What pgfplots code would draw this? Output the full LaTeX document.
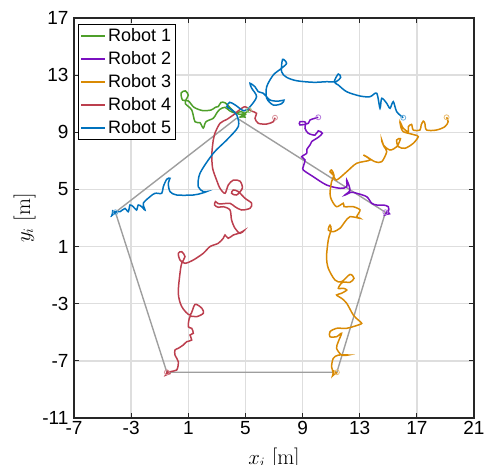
\documentclass[border=0pt]{standalone}
\usepackage{fontspec}
\usepackage{pgfplots}
\pgfplotsset{compat=1.18}
\usetikzlibrary{arrows.meta}
\newfontfamily\hv{Liberation Sans}
\definecolor{cg}{HTML}{4E9F2A}
\definecolor{cp}{HTML}{7A10C0}
\definecolor{co}{HTML}{D98A04}
\definecolor{cr}{HTML}{BC3F4E}
\definecolor{cb}{HTML}{0072BD}
\begin{document}
\begin{tikzpicture}
\begin{axis}[
  at={(0,0)}, anchor=south west,
  scale only axis, width=400pt, height=400pt,
  xmin=-7, xmax=21, ymin=-11, ymax=17,
  xtick={-7,-3,...,21}, ytick={-11,-7,...,17},
  grid=major, major grid style={color=black!13, line width=1.3pt},
  tick align=inside, major tick length=5pt,
  axis line style={color=black!85, line width=1.2pt},
  tick style={color=black!85, line width=1.2pt},
  /pgf/number format/assume math mode=true,
  ticklabel style={font=\hv\fontsize{19}{22}\selectfont},
  yticklabel style={xshift=-2pt},
  xlabel={$x_i$ [m]}, ylabel={$y_i$ [m]},
  xlabel style={yshift=-6pt},
  label style={font=\fontsize{22}{26}\selectfont},
  legend style={at={(0.01,0.985)}, anchor=north west,
    font=\hv\fontsize{18}{21}\selectfont, draw=black, line width=1.2pt,
    inner sep=2pt, row sep=4.5pt},
  legend cell align=left,
  legend image code/.code={\draw[#1,-,line width=1.6pt] (0pt,0pt) -- (24pt,0pt);},
  every axis plot/.append style={line width=1.5pt},
]
% pentagon
\addplot[color=black!38, line width=1.4pt, forget plot] coordinates {
(4.4,10.0) (14.8,3.4) (11.4,-7.8) (-0.5,-7.8) (-4.1,3.4) (4.4,10.0)};
% Robot 1
\addplot[cg, smooth, -{Latex[length=8pt,width=6pt]}] coordinates {
(5.25,10.55) (5.0,10.35) (4.6,10.25) (4.2,10.45) (3.9,10.75) (3.6,11.05) (3.3,11.1) (3.1,10.8) (2.9,10.75) (2.6,10.56) (2.0,10.52) (1.4,10.75) (1.0,11.2) (0.6,11.25) (0.5,11.75) (0.8,11.9) (1.0,11.6) (0.85,11.3) (0.8,11.0) (1.24,10.56) (1.47,9.74) (1.82,9.67) (2.05,9.3) (2.24,9.74) (2.75,9.98) (2.98,10.33) (3.2,10.6) (3.57,10.75) (3.9,10.5) (4.3,10.35) (4.7,10.45) (5.0,10.25) (4.7,10.1) (4.45,10.0)};
\addlegendentry{Robot 1}
% Robot 2
\addplot[cp, smooth, -{Latex[length=8pt,width=6pt]}] coordinates {
(10.10,10.05) (9.52,9.86) (9.40,9.63) (8.82,9.51) (8.82,9.74) (9.2,9.7) (9.17,9.28) (9.40,8.93) (9.87,8.81) (10.10,9.1) (10.38,8.93) (10.10,8.65) (9.64,8.35) (9.52,8.11) (9.3,7.8) (9.29,7.53) (8.94,7.29) (9.17,7.06) (9.05,6.59) (9.05,6.36) (9.75,5.89) (10.68,5.31) (11.62,5.08) (12.09,5.19) (12.09,5.66) (12.32,4.96) (11.97,4.61) (12.4,4.8) (12.79,4.73) (13.49,4.49) (13.84,4.03) (14.19,3.91) (14.65,3.91) (15.00,3.79) (15.00,3.44) (14.6,3.1)};
\addlegendentry{Robot 2}
% Robot 3
\addplot[co, smooth, -{Latex[length=8pt,width=6pt]}] coordinates {
(19.08,10.05) (19.19,9.74) (18.96,9.39) (18.38,9.16) (17.68,9.16) (17.56,9.63) (17.45,9.78) (17.30,9.51) (17.22,9.16) (16.75,9.16) (16.63,9.55) (16.40,9.39) (16.40,9.04) (16.05,9.28) (15.82,9.74) (15.9,9.3) (16.05,9.04) (16.40,8.93) (16.87,8.81) (17.10,8.69) (16.75,8.23) (16.17,7.88) (15.70,8.00) (15.59,8.46) (15.85,8.55) (15.6,8.0) (15.12,7.76) (14.65,8.11) (14.54,8.46) (14.7,8.0) (14.89,7.64) (14.54,6.94) (14.07,6.94) (13.49,7.29) (13.26,7.41) (13.72,7.06) (12.79,6.83) (12.09,6.24) (11.38,5.66) (11.15,6.01) (10.92,6.24) (11.03,6.36) (11.2,6.0) (11.03,5.54) (10.92,4.73) (11.03,4.26) (11.38,3.79) (11.85,4.03) (11.9,3.8) (12.20,3.79) (12.55,3.79) (13.02,3.56) (12.79,3.09) (13.02,2.98) (12.32,3.09) (11.97,2.74) (11.62,2.28) (11.15,2.04) (10.80,2.16) (10.92,2.5) (11.0,2.2) (10.80,1.46) (10.68,0.29) (10.80,-0.52) (11.27,-1.34) (11.73,-1.46) (12.32,-0.95) (12.6,-1.22) (12.32,-1.5) (11.8,-1.5) (11.50,-1.92) (11.85,-1.92) (12.09,-2.04) (11.73,-2.27) (11.38,-2.39) (11.73,-2.62) (12.09,-2.97) (12.55,-3.79) (12.90,-4.14) (13.14,-4.37) (12.90,-4.49) (12.09,-4.72) (11.38,-4.72) (10.92,-4.96) (10.92,-5.31) (11.38,-5.31) (11.73,-5.07) (11.50,-5.66) (11.38,-6.12) (11.73,-6.59) (12.20,-6.59) (11.5,-6.6) (11.15,-6.82) (11.03,-7.41) (11.15,-7.87) (11.0,-8.2)};
\addlegendentry{Robot 3}
% Robot 4
\addplot[cr, smooth, -{Latex[length=8pt,width=6pt]}] coordinates {
(7.07,10.02) (6.95,9.74) (6.49,9.58) (5.90,9.63) (5.67,9.98) (5.78,10.33) (5.4,10.5) (4.97,10.79) (4.5,10.5) (4.15,10.21) (3.7,9.9) (3.22,9.63) (2.85,8.9) (2.75,8.46) (2.65,7.5) (2.7,6.5) (2.98,5.66) (3.22,5.08) (3.57,4.73) (3.80,5.31) (4.15,5.65) (4.62,5.58) (4.78,5.08) (4.38,4.61) (4.03,4.73) (4.15,4.96) (4.50,4.85) (4.97,4.38) (5.44,4.03) (5.32,3.68) (4.73,3.56) (4.27,3.79) (3.92,4.03) (3.45,4.0) (3.1,4.0) (2.9,4.15) (2.85,3.9) (3.1,3.75) (3.45,3.79) (3.92,3.56) (4.03,2.86) (4.27,2.28) (4.62,1.93) (4.90,2.12) (4.6,1.95) (4.15,1.81) (3.80,1.58) (3.57,1.81) (3.45,1.58) (3.10,1.23) (2.52,1.00) (2.05,0.53) (1.35,0.06) (0.77,-0.17) (0.42,0.06) (0.30,0.53) (0.54,0.64) (0.77,0.29) (0.54,-0.17) (0.42,-0.87) (0.30,-2.27) (0.54,-3.20) (1.12,-3.79) (1.47,-3.05) (1.95,-3.32) (2.05,-3.67) (1.59,-3.91) (1.12,-3.91) (1.00,-4.61) (1.24,-4.72) (1.35,-5.07) (1.12,-5.19) (1.24,-5.54) (0.89,-5.66) (0.65,-5.89) (0.30,-6.12) (0.07,-6.24) (0.07,-6.59) (0.30,-7.06) (0.19,-7.64) (-0.28,-7.76) (-0.75,-8.15)};
\addlegendentry{Robot 4}
% Robot 5
\addplot[cb, smooth, -{Latex[length=8pt,width=6pt]}] coordinates {
(16.05,10.02) (15.59,10.44) (15.35,11.14) (15.12,10.68) (14.89,11.03) (14.54,11.38) (14.42,10.68) (14.19,11.73) (13.72,11.49) (13.02,11.54) (12.09,11.84) (11.50,12.31) (11.22,12.54) (11.50,13.08) (11.67,12.85) (11.34,12.54) (10.68,12.54) (9.75,12.50) (8.58,12.61) (7.88,12.85) (7.53,13.24) (7.6,14.1) (7.88,13.83) (7.53,13.48) (6.95,13.01) (6.49,12.19) (6.49,11.38) (6.95,10.91) (7.53,11.0) (7.7,11.25) (7.30,11.18) (6.72,11.26) (6.25,11.73) (5.90,11.84) (5.67,12.19) (5.32,12.43) (5.44,12.08) (5.78,11.49) (5.32,10.79) (4.9,10.5) (4.3,10.9) (3.9,11.1) (3.7,10.8) (4.0,10.6) (4.4,10.2) (4.5,9.4) (3.69,8.46) (2.75,7.53) (1.82,6.13) (1.70,5.19) (2.05,4.85) (2.28,4.85) (1.93,4.73) (1.35,4.61) (0.19,4.61) (-0.28,4.85) (-0.40,5.43) (-0.28,5.78) (-0.51,5.71) (-0.75,5.19) (-0.86,4.73) (-1.33,4.73) (-1.68,4.49) (-2.15,4.03) (-2.03,3.56) (-2.26,3.79) (-2.50,3.91) (-2.62,3.56) (-2.85,3.79) (-3.08,3.91) (-3.20,3.44) (-3.43,3.67) (-3.78,3.44) (-4.13,3.44) (-4.45,3.0)};
\addlegendentry{Robot 5}
% start and goal markers
\addplot[cg!55, only marks, mark=o, mark size=2.5pt, line width=0.8pt, forget plot] coordinates {(5.25,10.55)};
\addplot[cp!55, only marks, mark=o, mark size=2.5pt, line width=0.8pt, forget plot] coordinates {(10.10,10.05) (14.8,3.4)};
\addplot[co!55, only marks, mark=o, mark size=2.5pt, line width=0.8pt, forget plot] coordinates {(19.08,10.05) (11.4,-7.8)};
\addplot[cr!55, only marks, mark=o, mark size=2.5pt, line width=0.8pt, forget plot] coordinates {(7.07,10.02) (-0.5,-7.8)};
\addplot[cb!55, only marks, mark=o, mark size=2.5pt, line width=0.8pt, forget plot] coordinates {(16.05,10.02) (-4.1,3.4)};
\end{axis}
\pgfresetboundingbox
\useasboundingbox (-74pt,-46pt) rectangle (411pt,418pt);
\end{tikzpicture}
\end{document}
